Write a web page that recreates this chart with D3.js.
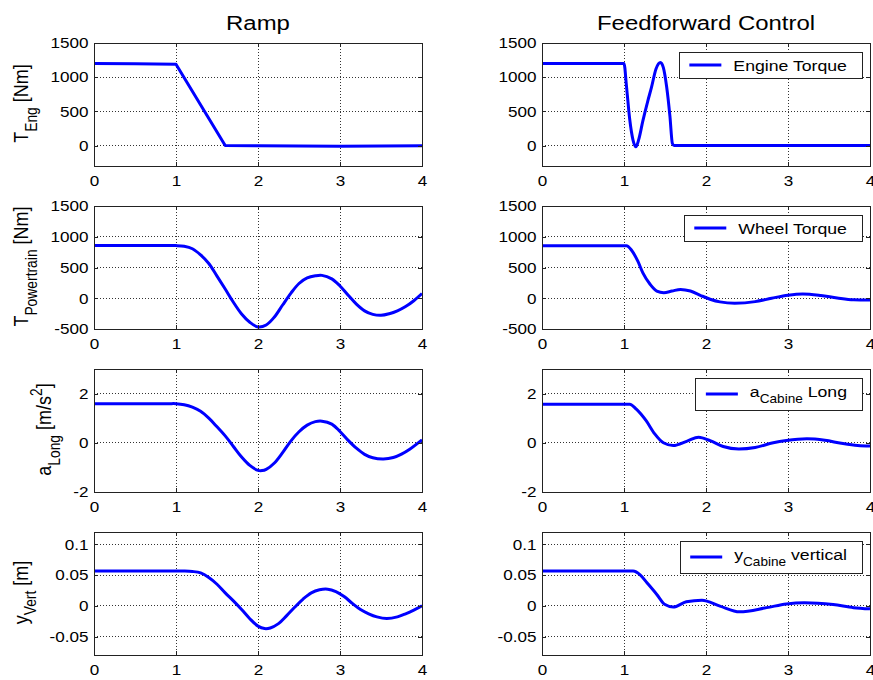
<!DOCTYPE html>
<html>
<head>
<meta charset="utf-8">
<script src="https://cdn.jsdelivr.net/npm/d3@7"></script>
<style>
body { margin: 0; background: #fff; }
svg { display: block; font-family: "Liberation Sans", Arial, Helvetica, sans-serif; }
text { white-space: pre; }
</style>
</head>
<body>
<svg id="chart" width="873" height="680"></svg>
<script>
// ---- data ----
var columnTitles = ["Ramp", "Feedforward Control"];
var xTicks = [0, 1, 2, 3, 4];

var yTicksEng = [0, 500, 1000, 1500];
var yTicksWheel = [-500, 0, 500, 1000, 1500];
var yTicksAcc = [-2, 0, 2];
var yTicksVert = [-0.05, 0, 0.05, 0.1];

// Ramp column
var rampEngineT = [0, 0.5, 1.0, 1.6, 2.0, 2.5, 3.0, 3.5, 4.0];
var rampEngineV = [1200, 1198, 1190, 0, -5, -8, -10, -8, -5];

var rampWheelT = [0, 0.9, 1.0, 1.1, 1.2, 1.3, 1.4, 1.5, 1.6, 1.7, 1.8, 1.9, 2.0, 2.1, 2.2, 2.3, 2.4, 2.5, 2.6, 2.7, 2.78, 2.9, 3.0, 3.1, 3.2, 3.3, 3.4, 3.5, 3.6, 3.7, 3.8, 3.9, 4.0];
var rampWheelV = [856, 856, 856, 845, 805, 705, 565, 360, 150, -65, -255, -390, -466, -435, -305, -110, 80, 240, 330, 365, 372, 315, 200, 50, -95, -205, -262, -278, -252, -205, -135, -40, 76];

var rampAccT = [0, 0.9, 1.0, 1.1, 1.2, 1.3, 1.4, 1.5, 1.6, 1.7, 1.8, 1.9, 2.0, 2.05, 2.1, 2.2, 2.3, 2.4, 2.5, 2.6, 2.7, 2.78, 2.9, 3.0, 3.1, 3.2, 3.3, 3.4, 3.53, 3.65, 3.75, 3.85, 4.0];
var rampAccV = [1.59, 1.59, 1.59, 1.55, 1.45, 1.28, 1.0, 0.65, 0.28, -0.15, -0.58, -0.92, -1.12, -1.13, -1.08, -0.82, -0.40, 0.07, 0.45, 0.72, 0.86, 0.88, 0.76, 0.46, 0.10, -0.22, -0.47, -0.61, -0.66, -0.60, -0.46, -0.26, 0.12];

var rampVertT = [0, 1.0, 1.1, 1.2, 1.3, 1.4, 1.5, 1.6, 1.7, 1.8, 1.9, 2.0, 2.08, 2.15, 2.25, 2.35, 2.45, 2.55, 2.65, 2.75, 2.85, 2.95, 3.05, 3.15, 3.25, 3.35, 3.45, 3.57, 3.7, 3.8, 3.9, 4.0];
var rampVertV = [0.0565, 0.0565, 0.0565, 0.0558, 0.0535, 0.046, 0.035, 0.021, 0.008, -0.006, -0.021, -0.033, -0.037, -0.036, -0.029, -0.016, -0.002, 0.011, 0.021, 0.026, 0.027, 0.023, 0.015, 0.004, -0.006, -0.013, -0.018, -0.0207, -0.018, -0.013, -0.007, 0.0];

// Feedforward column
var ffEngineT = [0, 1.0, 1.03, 1.07, 1.11, 1.145, 1.18, 1.23, 1.29, 1.335, 1.39, 1.445, 1.48, 1.52, 1.56, 1.59, 1.61, 4.0];
var ffEngineV = [1200, 1200, 870, 380, 80, -20, 90, 360, 650, 850, 1120, 1215, 1140, 860, 430, 30, 0, 0];

var ffWheelT = [0, 1.03, 1.09, 1.17, 1.23, 1.32, 1.40, 1.485, 1.585, 1.69, 1.81, 1.93, 2.05, 2.17, 2.35, 2.6, 2.8, 3.0, 3.18, 3.4, 3.6, 3.8, 4.0];
var ffWheelV = [855, 855, 785, 598, 412, 224, 117, 91, 117, 144, 117, 48, -16, -59, -80, -55, 0, 50, 70, 45, 5, -25, -30];

var ffAccT = [0, 1.07, 1.15, 1.27, 1.375, 1.48, 1.6, 1.77, 1.91, 2.05, 2.21, 2.4, 2.6, 2.82, 2.98, 3.23, 3.45, 3.65, 3.85, 4.0];
var ffAccV = [1.57, 1.57, 1.37, 0.90, 0.36, 0.0, -0.11, 0.07, 0.23, 0.09, -0.15, -0.25, -0.19, 0.0, 0.09, 0.16, 0.10, -0.02, -0.11, -0.13];

var ffVertT = [0, 1.11, 1.2, 1.28, 1.40, 1.50, 1.6, 1.76, 1.95, 2.17, 2.41, 2.74, 2.98, 3.2, 3.55, 3.8, 4.0];
var ffVertV = [0.0565, 0.0565, 0.050, 0.0375, 0.0185, 0.002, -0.002, 0.0065, 0.009, -0.0005, -0.0098, -0.003, 0.003, 0.005, 0.002, -0.003, -0.005];

// ---- layout ----
var SX = 1.14;            // the picture is a little wider than tall, text included
var colLeft = [94, 542];
var rowTop = [43, 206, 369, 532];
var plotW = 328, plotH = 123;
var lineColor = "#0000ff";
var smooth = d3.curveCatmullRom.alpha(0.5);
var mono = d3.curveMonotoneX;

var rows = [
	{ylim: [-300, 1500], ticks: yTicksEng,
	 label: [["T"], ["Eng", "sub"], [" [Nm]"]],
	 legend: [["Engine Torque"]],
	 series: [[rampEngineT, rampEngineV, d3.curveLinear], [ffEngineT, ffEngineV, mono]]},
	{ylim: [-500, 1500], ticks: yTicksWheel,
	 label: [["T"], ["Powertrain", "sub"], [" [Nm]"]],
	 legend: [["Wheel Torque"]],
	 series: [[rampWheelT, rampWheelV, smooth], [ffWheelT, ffWheelV, mono]]},
	{ylim: [-2, 3], ticks: yTicksAcc,
	 label: [["a"], ["Long", "sub"], [" [m/s"], ["2", "sup"], ["]"]],
	 legend: [["a"], ["Cabine", "sub"], [" Long"]],
	 series: [[rampAccT, rampAccV, smooth], [ffAccT, ffAccV, mono]]},
	{ylim: [-0.08, 0.12], ticks: yTicksVert,
	 label: [["y"], ["Vert", "sub"], [" [m]"]],
	 legend: [["y"], ["Cabine", "sub"], [" vertical"]],
	 series: [[rampVertT, rampVertV, smooth], [ffVertT, ffVertV, mono]]}
];

var svg = d3.select("#chart");

// text with sub/superscripts, parts = [[text, mode], ...]
function richText(parent, parts, size) {
	var t = parent.append("text").style("font-size", size + "px").attr("fill", "#000");
	var shift = 0;
	parts.forEach(function(p) {
		var mode = p[1];
		var target = mode == "sub" ? 0.4 * size : (mode == "sup" ? -0.45 * size : 0);
		t.append("tspan").text(p[0])
			.attr("dy", target - shift)
			.style("font-size", mode ? (size * 0.77) + "px" : null);
		shift = target;
	});
	return t;
}

// column titles
columnTitles.forEach(function(title, c) {
	svg.append("g")
		.attr("transform", "translate(" + (colLeft[c] + plotW / 2) + ",30) scale(" + SX + ",1)")
		.append("text").text(title)
		.attr("text-anchor", "middle")
		.style("font-size", "21px");
});

var x = d3.scaleLinear().domain([0, 4]).range([0, plotW]);

rows.forEach(function(row, r) {
	var y = d3.scaleLinear().domain(row.ylim).range([plotH, 0]);

	for (var c = 0; c < 2; c++) {
		var g = svg.append("g").attr("transform", "translate(" + colLeft[c] + "," + rowTop[r] + ")");
		var clipId = "clip" + r + "_" + c;
		g.append("clipPath").attr("id", clipId)
			.append("rect").attr("width", plotW).attr("height", plotH);

		g.append("rect").attr("width", plotW).attr("height", plotH).attr("fill", "#fff");

		// dotted grid
		var grid = g.append("g").attr("stroke", "#333").attr("stroke-dasharray", "1,2")
			.attr("shape-rendering", "crispEdges");
		grid.selectAll(".gx").data(xTicks).enter().append("line")
			.attr("x1", function(d) { return x(d); }).attr("x2", function(d) { return x(d); })
			.attr("y1", 0).attr("y2", plotH);
		grid.selectAll(".gy").data(row.ticks).enter().append("line")
			.attr("y1", function(d) { return y(d); }).attr("y2", function(d) { return y(d); })
			.attr("x1", 0).attr("x2", plotW);

		// data line
		var s = row.series[c];
		var pts = s[0].map(function(t, i) { return [t, s[1][i]]; });
		var line = d3.line()
			.x(function(d) { return x(d[0]); })
			.y(function(d) { return y(d[1]); })
			.curve(s[2]);
		g.append("path").datum(pts)
			.attr("clip-path", "url(#" + clipId + ")")
			.attr("d", line)
			.attr("fill", "none")
			.attr("stroke", lineColor)
			.attr("stroke-width", 3)
			.attr("stroke-linejoin", "round");

		// axes
		var fmt = function(d) { return String(d); };
		var ax = g.append("g").attr("transform", "translate(0," + plotH + ")")
			.call(d3.axisBottom(x).tickValues(xTicks).tickFormat(fmt).tickSizeInner(-4).tickSizeOuter(0).tickPadding(9.7));
		var ay = g.append("g")
			.call(d3.axisLeft(y).tickValues(row.ticks).tickFormat(fmt).tickSizeInner(-4).tickSizeOuter(0).tickPadding(5.5 / SX));
		g.append("g")
			.call(d3.axisTop(x).tickValues(xTicks).tickFormat("").tickSizeInner(-4).tickSizeOuter(0));
		g.append("g").attr("transform", "translate(" + plotW + ",0)")
			.call(d3.axisRight(y).tickValues(row.ticks).tickFormat("").tickSizeInner(-4).tickSizeOuter(0));
		g.selectAll(".domain").remove();
		g.selectAll(".tick line").attr("stroke", "#222").attr("shape-rendering", "crispEdges");
		[ax, ay].forEach(function(a) {
			a.attr("font-size", null).attr("font-family", null);
			a.selectAll("text")
				.attr("fill", "#000")
				.style("font-size", "15px")
				.attr("transform", "scale(" + SX + ",1)");
		});

		g.append("rect").attr("width", plotW).attr("height", plotH)
			.attr("fill", "none").attr("stroke", "#222").attr("shape-rendering", "crispEdges");

		if (c == 0) {
			// y label, set left of the tick labels
			var tickLeft = ay.node().getBBox().x;
			var lg = svg.append("g")
				.attr("transform", "translate(" + (colLeft[c] + tickLeft - 22) + "," + (rowTop[r] + plotH / 2 - 1) + ") scale(" + SX + ",1) rotate(-90)");
			richText(lg, row.label, 18).attr("text-anchor", "middle");
		} else {
			// legend box
			var leg = g.append("g");
			var box = leg.append("rect");
			var sample = leg.append("line");
			var tg = leg.append("g");
			var txt = richText(tg, row.legend, 15.5);
			var bb = txt.node().getBBox();
			var w = bb.width * SX + 69, h = bb.height + 9;
			var bx = plotW - 8 - w, by = 9;
			box.attr("x", bx).attr("y", by).attr("width", w).attr("height", h)
				.attr("fill", "#fff").attr("stroke", "#222").attr("shape-rendering", "crispEdges");
			sample.attr("x1", bx + 10).attr("x2", bx + 42)
				.attr("y1", by + h / 2).attr("y2", by + h / 2)
				.attr("stroke", lineColor).attr("stroke-width", 3);
			tg.attr("transform", "translate(" + (bx + 54) + "," + (by + h / 2 - (bb.y + bb.height / 2)) + ") scale(" + SX + ",1)");
		}
	}
});
</script>
</body>
</html>
